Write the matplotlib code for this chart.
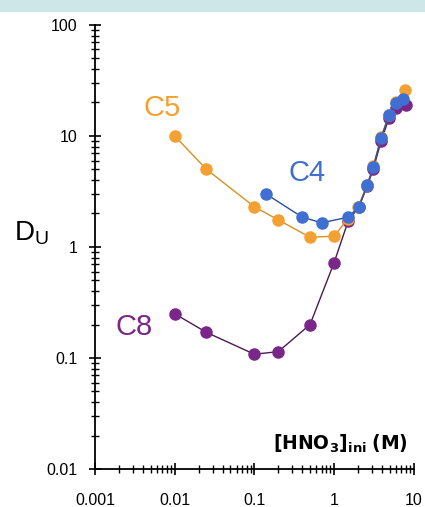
import matplotlib
matplotlib.use("Agg")
import matplotlib.pyplot as plt
from matplotlib.ticker import LogLocator, FixedLocator, NullFormatter

plt.rcParams["font.family"] = ["Liberation Sans", "DejaVu Sans"]

# C5 (orange)
c5_x = [0.01, 0.025, 0.1, 0.2, 0.5, 1.0, 1.5, 2.0, 2.6, 3.1, 3.9, 4.9, 6.0, 7.7]
c5_y = [10.0, 5.0, 2.3, 1.75, 1.22, 1.25, 1.8, 2.3, 3.6, 5.3, 9.8, 15.5, 20.0, 26.0]

# C4 (blue)
c4_x = [0.14, 0.4, 0.7, 1.5, 2.05, 2.6, 3.1, 3.9, 4.9, 6.0, 7.3]
c4_y = [3.0, 1.85, 1.65, 1.85, 2.3, 3.6, 5.2, 9.6, 15.5, 19.8, 21.5]

# C8 (purple)
c8_x = [0.01, 0.025, 0.1, 0.2, 0.5, 1.0, 1.5, 2.05, 2.6, 3.1, 3.9, 4.9, 6.0, 8.0]
c8_y = [0.25, 0.17, 0.108, 0.114, 0.2, 0.72, 1.7, 2.3, 3.5, 5.0, 9.0, 14.5, 18.0, 19.0]

orange = "#f5a033"
blue = "#3f6fd2"
purple = "#7b2789"

fig = plt.figure(figsize=(4.25, 5.07), dpi=100)
fig.patches.append(plt.Rectangle((0, 1 - 11 / 507), 1, 11 / 507,
                                 transform=fig.transFigure, color="#cde6e8", zorder=0))
ax = fig.add_axes([0.2235, 0.075, 0.75, 0.876])

ax.plot(c8_x, c8_y, color="#4a1a55", lw=1.0, marker="o", ms=8,
        mfc=purple, mec=purple, zorder=2)
ax.plot(c5_x, c5_y, color="#d9901f", lw=1.0, marker="o", ms=8,
        mfc=orange, mec=orange, zorder=3)
ax.plot(c4_x, c4_y, color="#2a4fa0", lw=1.0, marker="o", ms=8,
        mfc=blue, mec=blue, zorder=4)

ax.set_xscale("log")
ax.set_yscale("log")
ax.set_xlim(0.001, 10)
ax.set_ylim(0.01, 100)

for s in ["top", "right"]:
    ax.spines[s].set_visible(False)
ax.spines["left"].set_linewidth(1.3)
ax.spines["bottom"].set_linewidth(1.3)

ax.xaxis.set_major_locator(FixedLocator([0.001, 0.01, 0.1, 1, 10]))
ax.yaxis.set_major_locator(FixedLocator([0.01, 0.1, 1, 10, 100]))
ax.xaxis.set_minor_locator(LogLocator(base=10, subs=range(2, 10), numticks=20))
ax.yaxis.set_minor_locator(LogLocator(base=10, subs=range(2, 10), numticks=20))
ax.xaxis.set_minor_formatter(NullFormatter())
ax.yaxis.set_minor_formatter(NullFormatter())
ax.set_xticklabels(["0.001", "0.01", "0.1", "1", "10"])
ax.set_yticklabels(["0.01", "0.1", "1", "10", "100"])
ax.tick_params(which="major", direction="inout", length=9, width=1.2,
               labelsize=11.5, color="black")
ax.tick_params(which="minor", direction="inout", length=6, width=1.0)
ax.tick_params(axis="x", which="major", pad=13)
ax.tick_params(axis="y", which="major", pad=8)

ax.text(0.0041, 18, "C5", color=orange, fontsize=21, ha="left", va="center")
ax.text(0.27, 4.6, "C4", color=blue, fontsize=21, ha="left", va="center")
ax.text(0.0018, 0.19, "C8", color=purple, fontsize=21, ha="left", va="center")
ax.text(-0.255, 0.53, "D$_\\mathregular{U}$", transform=ax.transAxes, fontsize=20,
        ha="left", va="center")
ax.text(8.5, 0.0135, r"$\mathbf{[HNO_3]_{ini}}$ $\mathbf{(M)}$", fontsize=13.5,
        ha="right", va="bottom")

fig.savefig("out.png", dpi=100)
